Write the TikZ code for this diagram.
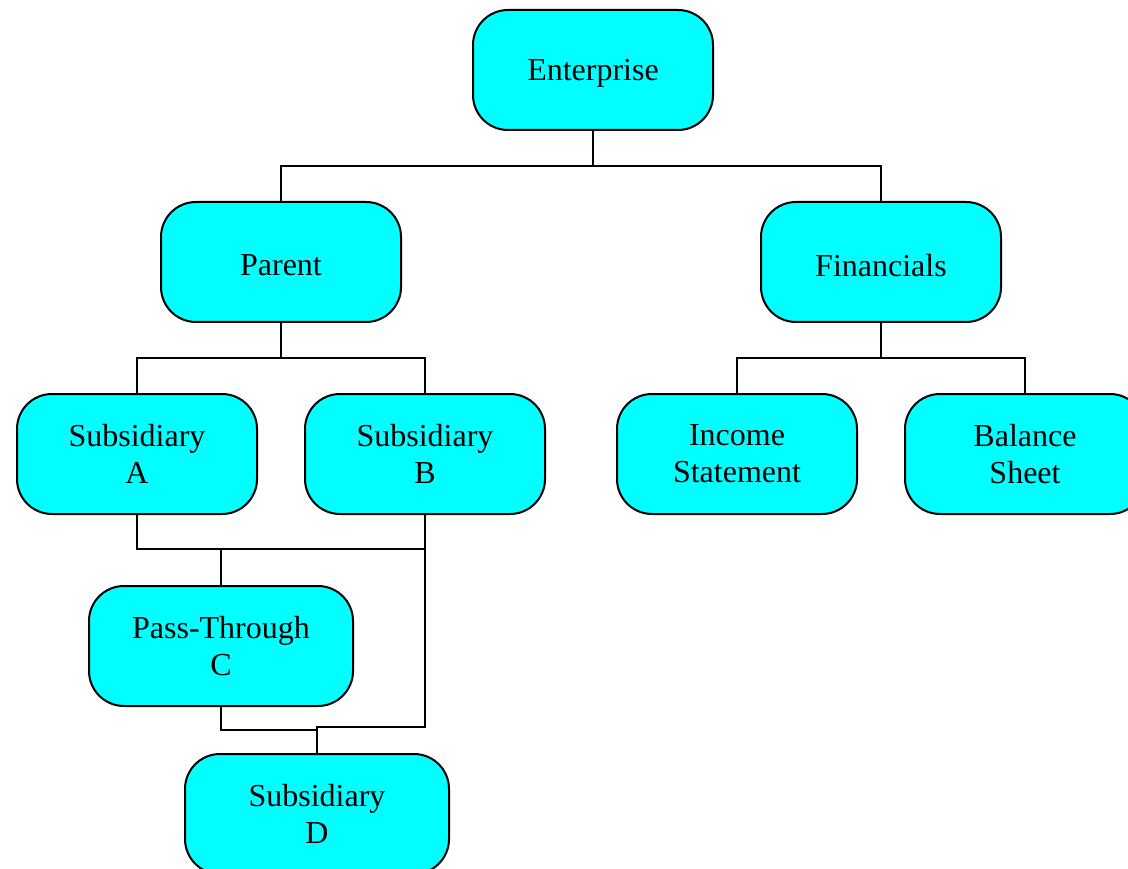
\documentclass[tikz,border=0pt]{standalone}
\usepackage{fontspec}
\setmainfont{Liberation Serif}
\newcommand{\lowertxt}[1]{\raisebox{-3.5pt}[\height][\depth]{#1}}
\begin{document}
\begin{tikzpicture}[x=1pt,y=-1pt,
  box/.style={draw=black,line width=2pt,fill={rgb,255:red,0;green,255;blue,255},
    rounded corners=35pt,minimum width=240pt,minimum height=120pt,inner sep=0pt,
    align=center,font=\fontsize{32}{37}\selectfont},
  wide/.style={minimum width=264pt},
  conn/.style={line width=2pt,line cap=rect}]
\useasboundingbox (0,0) rectangle (1128,869);
\clip (0,0) rectangle (1128,869);
\node[box] (ent) at (593,70) {\lowertxt{Enterprise}};
\node[box] (par) at (281,262) {\lowertxt{Parent}};
\node[box] (fin) at (881,262) {\lowertxt{Financials}};
\node[box] (sa) at (137,454) {Subsidiary\\A};
\node[box] (sb) at (425,454) {Subsidiary\\B};
\node[box] (inc) at (737,454) {Income\\Statement};
\node[box] (bal) at (1025,454) {Balance\\Sheet};
\node[box,wide] (pt) at (221,646) {Pass-Through\\C};
\node[box,wide] (sd) at (317,814) {Subsidiary\\D};
\coordinate (j1) at (425,549);
\coordinate (j2) at (425,727);
\coordinate (j3) at (317,730);
\draw[conn] (ent.south) -- ++(0,35) -| (par.north);
\draw[conn] (ent.south) ++(0,35) -| (fin.north);
\draw[conn] (par.south) -- ++(0,35) -| (sa.north);
\draw[conn] (par.south) ++(0,35) -| (sb.north);
\draw[conn] (fin.south) -- ++(0,35) -| (inc.north);
\draw[conn] (fin.south) ++(0,35) -| (bal.north);
\draw[conn] (sa.south) |- (j1);
\draw[conn] (pt.north) -- (pt.north |- j1);
\draw[conn] (sb.south) -- (j2) -| (sd.north);
\draw[conn] (pt.south) |- (j3);
\end{tikzpicture}
\end{document}
